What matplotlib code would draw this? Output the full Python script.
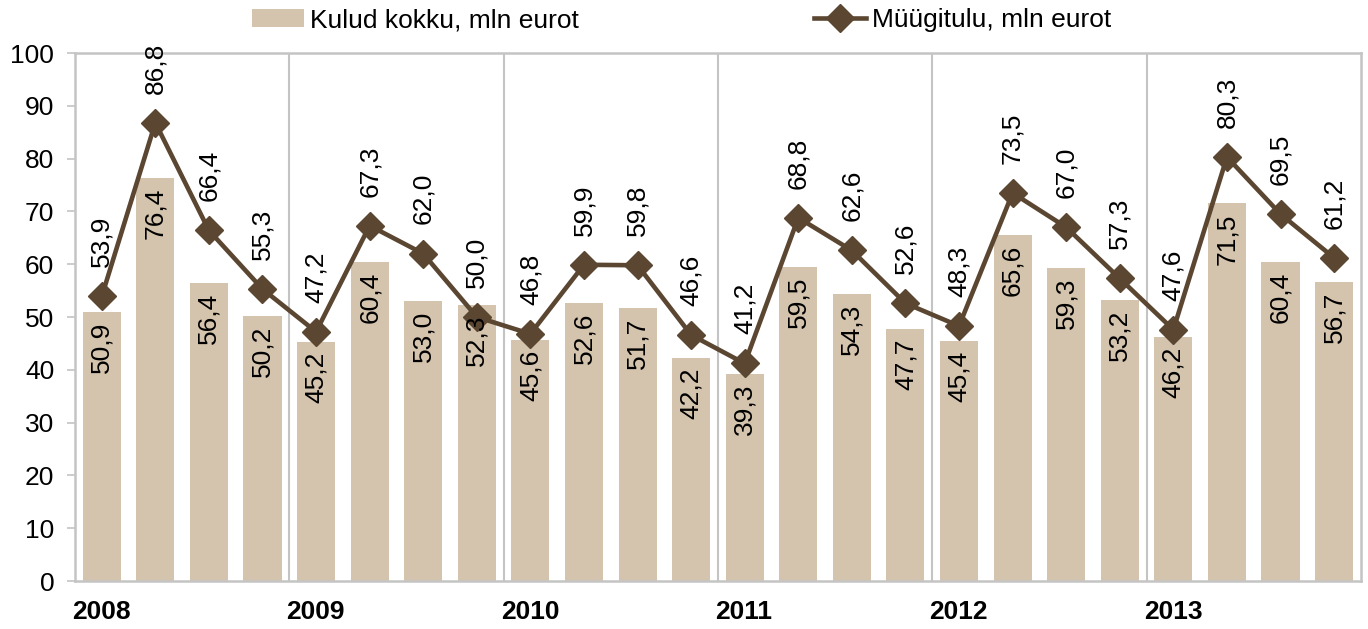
import matplotlib
matplotlib.use('Agg')
from matplotlib import pyplot as plt
from matplotlib.transforms import blended_transform_factory
import numpy as np

plt.rcParams['font.family'] = ['Liberation Sans', 'DejaVu Sans']

years = ['2008', '2009', '2010', '2011', '2012', '2013']
kulud = [50.9, 76.4, 56.4, 50.2, 45.2, 60.4, 53.0, 52.3, 45.6, 52.6, 51.7, 42.2,
         39.3, 59.5, 54.3, 47.7, 45.4, 65.6, 59.3, 53.2, 46.2, 71.5, 60.4, 56.7]
myygitulu = [53.9, 86.8, 66.4, 55.3, 47.2, 67.3, 62.0, 50.0, 46.8, 59.9, 59.8, 46.6,
             41.2, 68.8, 62.6, 52.6, 48.3, 73.5, 67.0, 57.3, 47.6, 80.3, 69.5, 61.2]

bar_color = '#D5C4AD'
line_color = '#5B4632'
grid_color = '#C4C4C4'
fs = 19

x = np.arange(len(kulud))

fig = plt.figure(figsize=(13.68, 6.29), dpi=100)
ax = fig.add_axes([0.0548, 0.0763, 0.940, 0.8394])

bars = ax.bar(x, kulud, width=0.71, color=bar_color, label='Kulud kokku, mln eurot', zorder=2)
line, = ax.plot(x, myygitulu, '-D', color=line_color, lw=3.3, markersize=14,
                label='Müügitulu, mln eurot', zorder=3)

def fmt(v):
    return f'{v:.1f}'.replace('.', ',')

for xi, v in zip(x, kulud):
    ax.annotate(fmt(v), (xi, v), xytext=(0, -7), textcoords='offset points',
                rotation=90, ha='center', va='top', fontsize=fs, zorder=4)
for xi, v in zip(x, myygitulu):
    ax.annotate(fmt(v), (xi, v), xytext=(0, 21), textcoords='offset points',
                rotation=90, ha='center', va='bottom', fontsize=fs, zorder=4)

ax.set_xlim(-0.5, len(kulud) - 0.5)
ax.set_ylim(0, 100)
ax.set_yticks(range(0, 101, 10))
ax.tick_params(axis='y', labelsize=fs, color=grid_color, length=6, width=1.2, pad=9)
ax.set_xticks([])

for b in np.arange(3.5, len(kulud) - 1, 4):
    ax.axvline(b, color=grid_color, lw=1.5, zorder=1)

for s in ax.spines.values():
    s.set_color(grid_color)
    s.set_linewidth(1.8)

trans = blended_transform_factory(ax.transData, ax.transAxes)
for i, yr in enumerate(years):
    ax.text(i * 4 - 0.55, -0.0587, yr, transform=trans, ha='left', va='center',
            fontsize=fs, fontweight='bold')

fig.legend(handles=[bars, line], loc='center', bbox_to_anchor=(0.498, 0.968), ncol=2,
           frameon=False, fontsize=fs, handlelength=2.0, handletextpad=0.2,
           columnspacing=8.9)

plt.savefig('out.png', dpi=100)
